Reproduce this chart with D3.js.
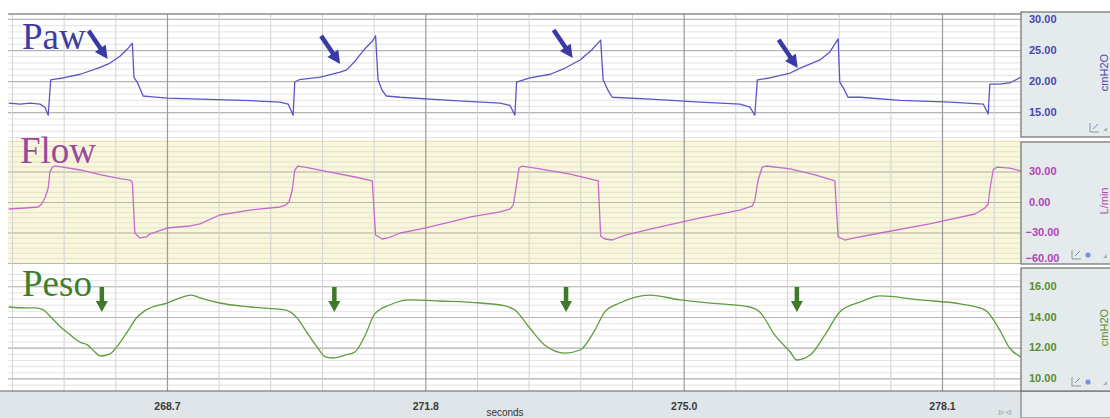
<!DOCTYPE html>
<html>
<head>
<meta charset="utf-8">
<script src="https://cdn.jsdelivr.net/npm/d3@7"></script>
<style>
  html, body { margin: 0; padding: 0; background: #ffffff; overflow: hidden; }
  svg { display: block; }
</style>
</head>
<body>
<svg id="chart" width="1110" height="418"></svg>
<script>
// ---- recorded traces: [time (s), value] ----
const pawSeries = [
  [266.78,16.45],[266.92,16.3],[267.04,16.45],[267.16,16.3],[267.22,15.8],[267.26,14.5],
  [267.29,20.2],[267.34,20.3],[267.44,20.5],[267.65,21.1],[267.89,22.2],[268.01,22.9],
  [268.13,24.0],[268.23,25.3],[268.28,26.1],[268.30,20.6],[268.34,19.8],[268.37,18.9],
  [268.41,17.6],[268.49,17.5],[268.70,17.25],[269.10,17.1],[269.71,16.85],[270.07,16.6],
  [270.17,16.3],[270.23,14.5],[270.25,19.85],[270.31,20.25],[270.56,20.65],[270.80,21.45],
  [270.88,21.8],[270.98,23.2],[271.10,25.2],[271.19,26.4],[271.23,27.3],[271.26,20.2],
  [271.31,18.5],[271.36,17.6],[271.53,17.4],[272.13,16.9],[272.74,16.45],[272.86,16.1],
  [272.92,14.5],[272.94,19.84],[273.10,20.5],[273.35,21.1],[273.53,22.1],[273.71,23.4],
  [273.85,25.0],[273.96,26.6],[273.99,20.2],[274.05,18.5],[274.10,17.4],[274.56,17.1],
  [275.17,16.6],[275.65,16.3],[275.77,15.8],[275.83,14.5],[275.86,20.2],[276.01,20.5],
  [276.26,21.3],[276.38,22.1],[276.62,23.4],[276.74,24.7],[276.84,26.8],[276.86,19.84],
  [276.92,18.5],[276.96,17.4],[277.11,17.4],[277.59,16.9],[278.20,16.6],[278.60,16.3],
  [278.66,14.7],[278.68,19.5],[278.80,19.5],[278.92,19.7],[279.06,20.65]
];

const flowSeries = [
  [266.78,-6.9],[266.98,-5.9],[267.14,-4.9],[267.18,-2],[267.22,3.9],[267.26,13.8],
  [267.28,29.5],[267.31,34.4],[267.34,35.4],[267.40,34.9],[267.65,31.5],[267.89,27],
  [268.13,23],[268.25,21.6],[268.28,19.7],[268.31,-30.5],[268.37,-35.4],[268.45,-34.4],
  [268.49,-31.5],[268.70,-25.6],[268.98,-23.6],[269.10,-21.6],[269.34,-12.8],[269.71,-7.9],
  [270.07,-4.9],[270.13,-3.4],[270.18,0],[270.22,11.8],[270.25,31.5],[270.29,35.4],
  [270.37,34.4],[270.68,29.5],[270.98,24.6],[271.19,20.7],[271.23,-32.5],[271.31,-36.4],
  [271.38,-35.4],[271.53,-30.5],[271.77,-26.6],[272.13,-19.7],[272.37,-14.8],[272.74,-9.8],
  [272.86,-6.9],[272.90,-3],[272.93,11.8],[272.97,33.4],[273.01,35.4],[273.22,32.5],
  [273.59,27.5],[273.93,20.7],[273.96,-33.4],[274.01,-36.4],[274.10,-37.4],[274.26,-32.5],
  [274.56,-26.6],[275.17,-15.7],[275.65,-7.9],[275.80,-3.9],[275.83,2],[275.87,21.6],
  [275.92,34.4],[275.97,35.4],[276.26,32.5],[276.56,26.6],[276.80,20.7],[276.84,-34.4],
  [276.92,-37.4],[277.04,-35.4],[277.35,-30.5],[277.95,-21.6],[278.50,-11.8],[278.62,-5.9],
  [278.66,-2],[278.68,11.8],[278.72,31.5],[278.77,34.4],[278.92,33.4],[279.06,30.5]
];

const pesoSeries = [
  [266.78,14.65],[266.92,14.6],[267.10,14.59],[267.20,14.46],[267.28,14.07],[267.40,13.4],
  [267.49,13.0],[267.65,12.35],[267.73,12.2],[267.83,11.7],[267.89,11.46],[268.01,11.6],
  [268.09,12.05],[268.21,12.96],[268.34,14.0],[268.43,14.4],[268.70,14.91],[269.00,15.43],
  [269.10,15.24],[269.34,14.91],[269.71,14.65],[270.13,14.46],[270.28,13.93],[270.40,12.96],
  [270.52,12.05],[270.62,11.4],[270.71,11.33],[270.86,11.52],[270.98,11.72],[271.10,12.76],
  [271.22,14.2],[271.40,14.78],[271.65,15.11],[272.01,15.04],[272.50,14.91],[272.80,14.72],
  [272.92,14.46],[273.10,13.28],[273.28,12.18],[273.53,11.65],[273.71,11.85],[273.89,13.15],
  [274.01,14.33],[274.19,14.91],[274.56,15.43],[274.92,15.11],[275.41,14.85],[275.77,14.65],
  [275.89,14.33],[276.07,12.83],[276.26,11.72],[276.34,11.2],[276.50,11.52],[276.68,12.83],
  [276.86,14.33],[277.11,14.98],[277.35,15.37],[277.83,15.11],[278.32,14.85],[278.62,14.46],
  [278.80,13.15],[278.92,11.98],[279.06,11.39]
];

// ---- axis ticks ----
const timeMajor = [268.7, 271.833, 274.967, 278.1];
const timeLabels = ["268.7", "271.8", "275.0", "278.1"];
const pawTicks = [30, 25, 20, 15];
const flowTicks = [30, 0, -30, -60];
const pesoTicks = [16, 14, 12, 10];

// ---- annotation arrow tips: [time (s), value] ----
const pawArrows = [[267.98, 23.55], [270.80, 22.74], [273.62, 23.7], [276.35, 22.1]];
const pesoArrows = [[267.91, 14.33], [270.73, 14.33], [273.54, 14.33], [276.34, 14.33]];

// ---- layout ----
const svg = d3.select("#chart");
const plotLeft = 8, plotRight = 1021, boxRight = 1110;
const gridTop = 14, gridBottom = 391;

const x = d3.scaleLinear().domain([266.772, 279.058]).range([plotLeft, plotRight]);

const panels = [
  { name: "Paw",  unit: "cmH2O", data: pawSeries,  ticks: pawTicks,  top: 14,  bottom: 137, domain: [11, 30.8],
    minorStep: 1, line: "#5b55c6", text: "#3f3c9f", label: "#4b45b2", bg: "#ffffff", boxTop: 12, boxBottom: 137, dot: false,
    major: "#b4b4b4", minor: "#e3e3e3", curve: d3.curveLinear, lx: 22, ly: 35 },
  { name: "Flow", unit: "L/min", data: flowSeries, ticks: flowTicks, top: 140, bottom: 264, domain: [-61, 61],
    minorStep: 5, line: "#c56acd", text: "#9a4a9c", label: "#b045b5", bg: "#f8f6dc", boxTop: 142, boxBottom: 264, dot: true,
    major: "#b8b7a0", minor: "#e6e4c6", curve: d3.curveLinear, lx: 20, ly: 23 },
  { name: "Peso", unit: "cmH2O", data: pesoSeries, ticks: pesoTicks, top: 268, bottom: 391, domain: [9.18, 17.19],
    minorStep: 0.4, line: "#5f9d3e", text: "#3f7d2c", label: "#5a8c2c", bg: "#ffffff", boxTop: 268, boxBottom: 391, dot: true,
    major: "#b4b4b4", minor: "#e3e3e3", curve: d3.curveMonotoneX, lx: 22, ly: 28 }
];

const defs = svg.append("defs");

panels.forEach((p, i) => {
  p.y = d3.scaleLinear().domain(p.domain).range([p.bottom, p.top]);
  defs.append("clipPath").attr("id", "clip" + i)
    .append("rect").attr("x", plotLeft).attr("y", p.top)
    .attr("width", plotRight - plotLeft).attr("height", p.bottom - p.top);

  svg.append("rect").attr("x", plotLeft).attr("y", p.top)
    .attr("width", plotRight - plotLeft).attr("height", p.bottom - p.top)
    .attr("fill", p.bg);

  // horizontal minor and major grid
  const minorVals = d3.range(Math.ceil(p.domain[0] / p.minorStep), Math.floor(p.domain[1] / p.minorStep) + 1)
    .map(k => +(k * p.minorStep).toFixed(3));
  const gMinor = svg.append("g").attr("transform", `translate(${plotLeft},0)`)
    .call(d3.axisRight(p.y).tickValues(minorVals).tickSize(plotRight - plotLeft).tickFormat(""));
  gMinor.select(".domain").remove();
  gMinor.selectAll("line").attr("stroke", p.minor).attr("stroke-width", 1);

  const gMajor = svg.append("g").attr("transform", `translate(${plotLeft},0)`)
    .call(d3.axisRight(p.y).tickValues(p.ticks.filter(v => v > p.domain[0] && v < p.domain[1]))
      .tickSize(plotRight - plotLeft).tickFormat(""));
  gMajor.select(".domain").remove();
  gMajor.selectAll("line").attr("stroke", p.major).attr("stroke-width", 1.2);
});

// vertical grid (time)
const majorStep = (timeMajor[timeMajor.length - 1] - timeMajor[0]) / (timeMajor.length - 1);
const minorStepT = majorStep / 5;
const minorTimes = [];
for (let k = -20; k <= 30; k++) {
  const t = timeMajor[0] + k * minorStepT;
  if (t > x.domain()[0] && t < x.domain()[1] && k % 5 !== 0) minorTimes.push(t);
}
const vMinor = svg.append("g").attr("transform", `translate(0,${gridBottom})`)
  .call(d3.axisBottom(x).tickValues(minorTimes).tickSize(-(gridBottom - gridTop)).tickFormat(""));
vMinor.select(".domain").remove();
vMinor.selectAll("line").attr("stroke", "#d2d2d2").attr("stroke-width", 1);

const vMajor = svg.append("g").attr("transform", `translate(0,${gridBottom})`)
  .call(d3.axisBottom(x).tickValues(timeMajor).tickSize(-(gridBottom - gridTop)).tickFormat(""));
vMajor.select(".domain").remove();
vMajor.selectAll("line").attr("stroke", "#9a9a9a").attr("stroke-width", 1.2);

// top frame line
svg.append("line").attr("x1", plotLeft).attr("x2", plotRight).attr("y1", gridTop).attr("y2", gridTop)
  .attr("stroke", "#8c8c8c").attr("stroke-width", 1.6);

// traces and channel names
panels.forEach((p, i) => {
  const line = d3.line().curve(p.curve).x(d => x(d[0])).y(d => p.y(d[1]));
  svg.append("path").datum(p.data)
    .attr("clip-path", `url(#clip${i})`)
    .attr("fill", "none").attr("stroke", p.line).attr("stroke-width", 1.3)
    .attr("stroke-linejoin", "round").attr("d", line);

  svg.append("text").attr("x", p.lx).attr("y", p.top + p.ly)
    .attr("font-family", "'Liberation Serif', 'Times New Roman', serif")
    .attr("font-size", 37).attr("fill", p.text).text(p.name);
});

// arrows
function arrowPath(len, shaft, head, headLen) {
  // arrow pointing along +y, tip at origin
  const s = shaft / 2, h = head / 2;
  return `M0,0 L${-h},${-headLen} L${-s},${-headLen} L${-s},${-len} L${s},${-len} L${s},${-headLen} L${h},${-headLen} Z`;
}
const pawPanel = panels[0], pesoPanel = panels[2];
svg.append("g").selectAll("path").data(pawArrows).join("path")
  .attr("d", arrowPath(34, 4.5, 13, 13))
  .attr("transform", d => `translate(${x(d[0])},${pawPanel.y(d[1])}) rotate(-34)`)
  .attr("fill", "#3a3aa6");
svg.append("g").selectAll("path").data(pesoArrows).join("path")
  .attr("d", arrowPath(25, 4.5, 12, 11))
  .attr("transform", d => `translate(${x(d[0])},${pesoPanel.y(d[1])})`)
  .attr("fill", "#3d7a2a");

// bottom time band
svg.append("rect").attr("x", 0).attr("y", gridBottom).attr("width", plotRight).attr("height", 418 - gridBottom)
  .attr("fill", "#dfe5e8");
svg.append("rect").attr("x", plotRight).attr("y", gridBottom).attr("width", boxRight - plotRight + 2).attr("height", 418 - gridBottom)
  .attr("fill", "#e9edef").attr("stroke", "#6f6f6f").attr("stroke-width", 1);
svg.append("line").attr("x1", 0).attr("x2", plotRight).attr("y1", gridBottom).attr("y2", gridBottom)
  .attr("stroke", "#666").attr("stroke-width", 1.2);

const xAxis = svg.append("g").attr("transform", `translate(0,${gridBottom})`)
  .call(d3.axisBottom(x).tickValues(timeMajor).tickSize(0).tickPadding(12)
    .tickFormat((d, i) => timeLabels[i]));
xAxis.select(".domain").remove();
xAxis.selectAll("text").attr("font-family", "'Liberation Sans', Arial, sans-serif")
  .attr("font-size", 10.5).attr("font-weight", "bold").attr("fill", "#3a3a3a");

svg.append("text").attr("x", 505).attr("y", 416).attr("text-anchor", "middle")
  .attr("font-family", "'Liberation Sans', Arial, sans-serif").attr("font-size", 10)
  .attr("fill", "#333").text("seconds");
svg.append("text").attr("x", 1005).attr("y", 415).attr("text-anchor", "middle")
  .attr("font-family", "'Liberation Sans', Arial, sans-serif").attr("font-size", 8)
  .attr("fill", "#9aa6b0").text("⊳⊲");

// value boxes on the right
panels.forEach(p => {
  svg.append("rect").attr("x", plotRight).attr("y", p.boxTop)
    .attr("width", boxRight - plotRight + 5).attr("height", p.boxBottom - p.boxTop)
    .attr("fill", "#e5eaec").attr("stroke", "#6f6f6f").attr("stroke-width", 1.2);

  const gy = svg.append("g").attr("transform", `translate(${plotRight + 8},0)`)
    .call(d3.axisRight(p.y).tickValues(p.ticks).tickSize(0).tickPadding(0).tickFormat(d3.format(".2f")));
  gy.select(".domain").remove();
  gy.selectAll(".tick").attr("transform", d => `translate(0,${Math.min(p.y(d), p.boxBottom - 6)})`);
  gy.selectAll("text").attr("font-family", "'Liberation Sans', Arial, sans-serif")
    .attr("font-size", 11).attr("font-weight", "bold").attr("fill", p.label)
    .attr("dx", d => d < 0 ? -3.5 : 0);

  // unit name, rotated along the right edge
  svg.append("text")
    .attr("transform", `translate(${boxRight - 2},${(p.boxTop + p.boxBottom) / 2 - 2}) rotate(-90)`)
    .attr("text-anchor", "middle").attr("font-family", "'Liberation Sans', Arial, sans-serif")
    .attr("font-size", 11).attr("fill", p.label).text(p.unit);

  // small toolbar glyphs
  const iy = p.boxBottom - 9;
  const ix = p.dot ? plotRight + 51 : plotRight + 69;
  const icon = svg.append("g").attr("stroke", "#8d969c").attr("fill", "none").attr("stroke-width", 1);
  icon.append("path").attr("d", `M${ix},${iy - 5} L${ix},${iy + 4} L${ix + 9},${iy + 4}`);
  icon.append("path").attr("d", `M${ix + 3},${iy + 1} L${ix + 6},${iy - 2} L${ix + 8},${iy - 4}`).attr("stroke", "#6a8fc0");
  if (p.dot) {
    svg.append("circle").attr("cx", plotRight + 67).attr("cy", iy).attr("r", 2.6).attr("fill", "#7d8fe0");
  }
  svg.append("path").attr("d", `M${plotRight + 86},${iy + 3} L${plotRight + 82},${iy + 3} L${plotRight + 86},${iy - 1} Z`)
    .attr("fill", "#a8b0b5");
});
</script>
</body>
</html>
